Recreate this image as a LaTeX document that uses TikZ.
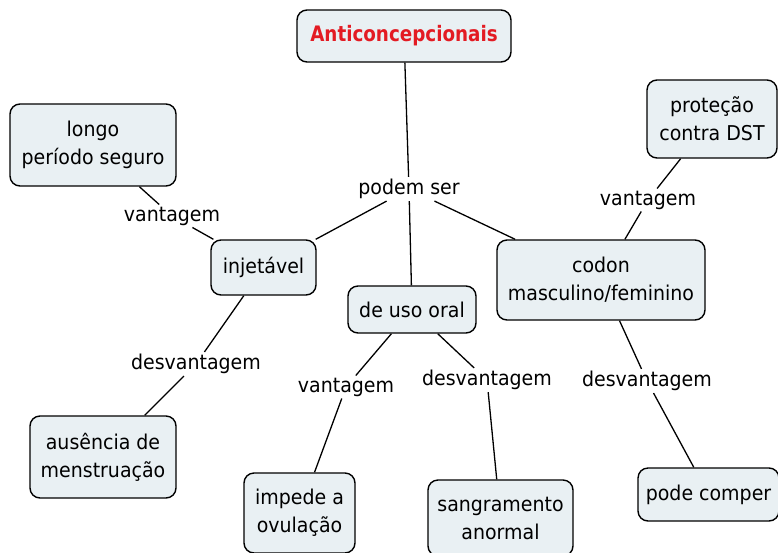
\documentclass[tikz,border=0pt]{standalone}
\usepackage{fontspec}
\setmainfont{DejaVu Sans}
\newfontfamily\mapfont[FakeStretch=0.93]{DejaVu Sans}
\newfontfamily\titlefont[FakeStretch=0.86]{DejaVu Sans Bold}
\begin{document}
\begin{tikzpicture}[x=1pt,y=-1pt,
  concept/.style={draw=black, line width=1.4pt, rounded corners=10pt, fill=boxfill, align=center,
    font=\mapfont\fontsize{20.4}{28}\selectfont, inner sep=0pt},
  linkword/.style={fill=white, inner sep=2pt, font=\mapfont\fontsize{20.4}{28}\selectfont},
  conn/.style={line width=1.3pt, black}]
\definecolor{boxfill}{HTML}{E9F0F3}
\definecolor{titlered}{HTML}{E31B23}
\useasboundingbox (0,0) rectangle (778,552);
% concepts
\node[concept, minimum width=214pt, minimum height=52pt, font=\titlefont\fontsize{21.3}{26}\selectfont, text=titlered] (anti) at (404,36) {Anticoncepcionais};
\node[concept, minimum width=166pt, minimum height=82pt] (longo) at (93,145) {longo\\período seguro};
\node[concept, minimum width=130pt, minimum height=78pt] (prot) at (712,119) {proteção\\contra DST};
\node[concept, minimum width=105pt, minimum height=55pt] (inj) at (263.5,267.5) {injetável};
\node[concept, minimum width=128pt, minimum height=47pt] (oral) at (412,309.5) {de uso oral};
\node[concept, minimum width=208pt, minimum height=80pt] (codon) at (601,280) {codon\\masculino/feminino};
\node[concept, minimum width=146pt, minimum height=82pt] (aus) at (103,457) {ausência de\\menstruação};
\node[concept, minimum width=111pt, minimum height=80pt] (imp) at (299.5,513) {impede a\\ovulação};
\node[concept, minimum width=145pt, minimum height=76pt] (sang) at (500.5,518) {sangramento\\anormal};
\node[concept, minimum width=141pt, minimum height=53pt] (pode) at (708.5,494.5) {pode comper};
% linking words
\node[linkword] (ps) at (409,189) {podem ser};
\node[linkword] (v1) at (172,216) {vantagem};
\node[linkword] (d1) at (196,364) {desvantagem};
\node[linkword] (v2) at (346,387) {vantagem};
\node[linkword] (d2) at (487,380) {desvantagem};
\node[linkword] (v3) at (648,200) {vantagem};
\node[linkword] (d3) at (647,381) {desvantagem};
% connectors
\draw[conn] (anti) -- (ps);
\draw[conn] (ps) -- (inj);
\draw[conn] (ps) -- (oral);
\draw[conn] (ps) -- (codon);
\draw[conn] (longo) -- (v1);
\draw[conn] (v1) -- (inj);
\draw[conn] (inj) -- (d1);
\draw[conn] (d1) -- (aus);
\draw[conn] (oral) -- (v2);
\draw[conn] (v2) -- (imp);
\draw[conn] (oral) -- (d2);
\draw[conn] (d2) -- (sang);
\draw[conn] (prot) -- (v3);
\draw[conn] (v3) -- (codon);
\draw[conn] (codon) -- (d3);
\draw[conn] (d3) -- (pode);
\end{tikzpicture}
\end{document}
